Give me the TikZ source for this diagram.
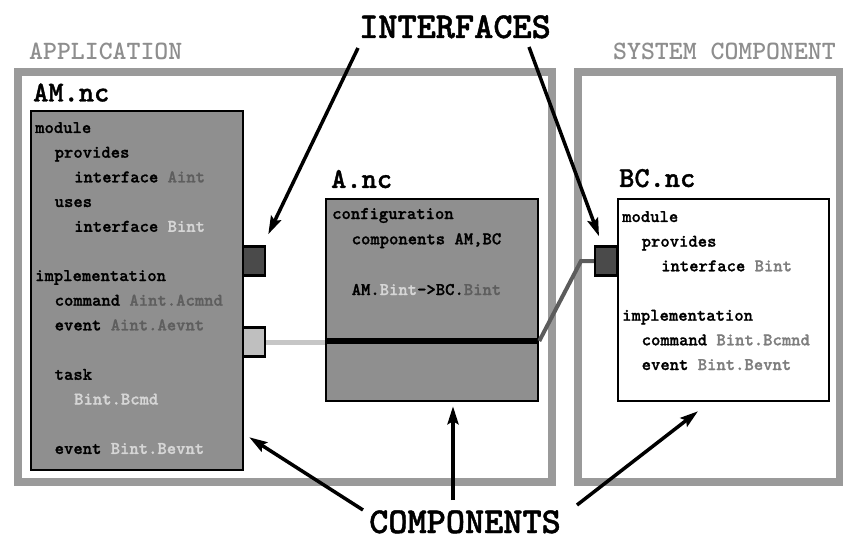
\documentclass[tikz,border=0pt]{standalone}
\usepackage{fontspec}
\usetikzlibrary{arrows.meta}

% heavy typewriter face for source listings and titles
\newfontfamily\heavytt{lmmonolt10-bold.otf}[FakeBold=1.2]
\newfontfamily\labeltt{lmmonolt10-bold.otf}

\definecolor{framegray}{HTML}{9A9A9A}
\definecolor{labelgray}{HTML}{8E8E8E}
\definecolor{boxgray}{HTML}{8F8F8F}
\definecolor{portdark}{HTML}{4A4A4A}
\definecolor{portlight}{HTML}{BFBFBF}
\definecolor{ifdark}{HTML}{5E5E5E}
\definecolor{iflight}{HTML}{D6D6D6}
\definecolor{ifwhite}{HTML}{7E7E7E}
\definecolor{wirelight}{HTML}{C6C6C6}
\definecolor{wiredark}{HTML}{5C5C5C}

\begin{document}
\begin{tikzpicture}[x=1pt,y=-1pt,
  regionframe/.style={draw=framegray,line width=8pt,inner sep=0pt},
  modbox/.style={draw=black,line width=2.5pt,inner sep=0pt},
  port/.style={draw=black,line width=2.5pt,inner sep=0pt,minimum width=22pt,minimum height=29pt},
  code/.style={font=\fontsize{17.8}{20}\selectfont\heavytt,inner sep=0pt,anchor=base west},
  fname/.style={font=\fontsize{29}{32}\selectfont\heavytt,inner sep=0pt,anchor=base west},
  region/.style={font=\fontsize{26.5}{30}\selectfont\labeltt,text=labelgray,inner sep=0pt,anchor=base west},
  calloutlabel/.style={font=\fontsize{36.5}{40}\selectfont\heavytt,inner sep=0pt,anchor=base west},
  pointer/.style={draw=black,line width=3.5pt,-{Stealth[length=18pt,width=11pt,inset=3pt]}},
  wire/.style={line width=5pt},
]
\useasboundingbox (0,0) rectangle (843,540);

% region frames
\node[regionframe,minimum width=534.5pt,minimum height=410pt] (appframe) at (284.75,277) {};
\node[regionframe,minimum width=262pt,minimum height=410pt] (sysframe) at (709,277) {};
\node[region] (applabel) at (29,60) {APPLICATION};
\node[region] (syslabel) at (613,60) {SYSTEM COMPONENT};

% component boxes
\node[modbox,fill=boxgray,minimum width=212pt,minimum height=359pt] (am) at (137,290.5) {};
\node[modbox,fill=boxgray,minimum width=212pt,minimum height=202pt] (anc) at (432,300) {};
\node[modbox,fill=white,minimum width=211pt,minimum height=202pt] (bc) at (723.5,300) {};
\draw[line width=6pt] ([yshift=-41pt]anc.west) -- ([yshift=-41pt]anc.east);

\node[fname] (amname) at (33,101.5) {AM.nc};
\node[fname] (anname) at (331,188) {A.nc};
\node[fname] (bcname) at (619,187) {BC.nc};

% ports
\node[port,fill=portdark] (amB) at (254,261) {};
\node[port,fill=portlight] (amA) at (254,342) {};
\node[port,fill=portdark] (bcB) at (606,261) {};

% wiring
\coordinate (bend) at (581,261);
\draw[wire,draw=wirelight] (amA.east) -- (amA.east -| anc.west);
\draw[wire,line width=4pt,draw=wiredark] ([yshift=-41pt]anc.east) -- (bend) -- (bcB.west);

% AM.nc source
\node[code] (am1) at (35,133) {module};
\node[code] (am2) at (54.5,157.7) {provides};
\node[code] (am3) at (74,182.4) {interface \textcolor{ifdark}{Aint}};
\node[code] (am4) at (54.5,207) {uses};
\node[code] (am5) at (74,231.8) {interface \textcolor{iflight}{Bint}};
\node[code] (am6) at (35,281) {implementation};
\node[code] (am7) at (54.5,305.7) {command \textcolor{ifdark}{Aint.Acmnd}};
\node[code] (am8) at (54.5,330.4) {event \textcolor{ifdark}{Aint.Aevnt}};
\node[code] (am9) at (54.5,379.8) {task};
\node[code] (am10) at (74,404.5) {\textcolor{iflight}{Bint.Bcmd}};
\node[code] (am11) at (54.5,453.9) {event \textcolor{iflight}{Bint.Bevnt}};

% A.nc source
\node[code] (an1) at (332,219) {configuration};
\node[code] (an2) at (351.5,244.3) {components AM,BC};
\node[code] (an3) at (351.5,295) {AM.\textcolor{iflight}{Bint}->BC.\textcolor{ifdark}{Bint}};

% BC.nc source
\node[code] (bc1) at (622,222) {module};
\node[code] (bc2) at (641.5,246.7) {provides};
\node[code] (bc3) at (661,271.3) {interface \textcolor{ifwhite}{Bint}};
\node[code] (bc4) at (622,320.7) {implementation};
\node[code] (bc5) at (641.5,345.3) {command \textcolor{ifwhite}{Bint.Bcmnd}};
\node[code] (bc6) at (641.5,370) {event \textcolor{ifwhite}{Bint.Bevnt}};

% callouts
\node[calloutlabel] (interfaces) at (359,38) {INTERFACES};
\node[calloutlabel] (components) at (369,533) {COMPONENTS};

\coordinate (ifL) at (358,48);
\coordinate (ifR) at (529,47);
\coordinate (cL) at (363,510);
\coordinate (cM) at (453,500);
\coordinate (cR) at (577,505);

\draw[pointer] (ifL) -- ([xshift=2pt,yshift=11pt]amB.north east);
\draw[pointer] (ifR) -- ([xshift=-7pt,yshift=9pt]bcB.north);
\draw[pointer] (cL) -- ([xshift=5pt,yshift=34pt]am.south east);
\draw[pointer] (cM) -- ([xshift=21pt,yshift=-4pt]anc.south);
\draw[pointer] (cR) -- ([xshift=-25.5pt,yshift=-9pt]bc.south);
\end{tikzpicture}
\end{document}
